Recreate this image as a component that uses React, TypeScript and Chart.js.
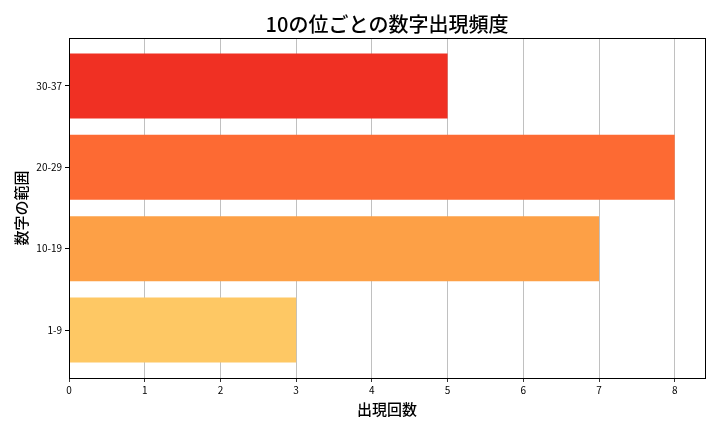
import React, { useEffect, useRef } from "react";
import { Chart, registerables } from "chart.js";

Chart.register(...registerables);

const categories = ["1-9", "10-19", "20-29", "30-37"];
const counts = [3, 7, 8, 5];
const barColors = ["#fec864", "#fda046", "#fd6a33", "#f03023"];
const xTicks = [0, 1, 2, 3, 4, 5, 6, 7, 8];

const FONT = "'Noto Sans CJK JP', 'Noto Sans', sans-serif";

const boxPlugin = {
  id: "boxBorder",
  afterDraw(chart: any) {
    const { ctx, chartArea } = chart;
    ctx.save();
    ctx.strokeStyle = "#000";
    ctx.lineWidth = 1;
    ctx.strokeRect(
      Math.round(chartArea.left) + 0.5,
      Math.round(chartArea.top) + 0.5,
      Math.round(chartArea.right - chartArea.left),
      Math.round(chartArea.bottom - chartArea.top)
    );
    ctx.restore();
  },
};

export default function App() {
  const ref = useRef<HTMLCanvasElement | null>(null);
  useEffect(() => {
    if (!ref.current) return;
    const chart = new Chart(ref.current, {
      type: "bar",
      data: {
        datasets: [
          {
            data: counts.map((v, i) => ({ x: v, y: i })),
            backgroundColor: barColors,
            borderWidth: 0,
            barPercentage: 0.8,
            categoryPercentage: 1.0,
          },
        ],
      },
      options: {
        indexAxis: "y",
        animation: false,
        responsive: false,
        layout: { padding: { right: 15, left: 0, bottom: 0 } },
        plugins: {
          legend: { display: false },
          tooltip: { enabled: false },
          title: {
            display: true,
            fullSize: false,
            text: "10の位ごとの数字出現頻度",
            color: "#000",
            font: { family: FONT, size: 20, weight: 500 },
            padding: { top: 12, bottom: 2 },
          },
        },
        scales: {
          x: {
            type: "linear",
            min: 0,
            max: 8.4,
            offset: false,
            afterBuildTicks: (scale: any) => {
              scale.ticks = xTicks.map((v) => ({ value: v }));
            },
            afterFit: (scale: any) => {
              scale.height = 54;
            },
            grid: {
              color: "#b0b0b0",
              lineWidth: 0.8,
              tickColor: "#000",
              tickLength: 4,
              drawOnChartArea: true,
              offset: false,
            },
            border: { display: true, color: "#000", width: 1 },
            ticks: {
              color: "#000",
              font: { family: FONT, size: 10 },
              padding: 2,
              maxRotation: 0,
            },
            title: {
              display: true,
              text: "出現回数",
              color: "#000",
              font: { family: FONT, size: 15, weight: 500 },
              padding: { top: 2, bottom: 14 },
            },
          },
          y: {
            type: "linear",
            min: -0.59,
            max: 3.59,
            offset: false,
            afterBuildTicks: (scale: any) => {
              scale.ticks = categories.map((_, i) => ({ value: i }));
            },
            afterFit: (scale: any) => {
              scale.width = 69;
            },
            grid: {
              drawOnChartArea: false,
              tickColor: "#000",
              tickLength: 4,
              offset: false,
            },
            border: { display: true, color: "#000", width: 1 },
            ticks: {
              color: "#000",
              font: { family: FONT, size: 10 },
              padding: 3,
              callback: (v: any) => categories[Number(v)] ?? "",
            },
            title: {
              display: true,
              text: "数字の範囲",
              color: "#000",
              font: { family: FONT, size: 15, weight: 500 },
              padding: { top: 12, bottom: 0 },
            },
          },
        },
      },
      plugins: [boxPlugin],
    } as any);
    return () => chart.destroy();
  }, []);
  return (
    <div style={{ position: "fixed", left: 0, top: 0, width: 720, height: 432, background: "#fff" }}>
      <canvas ref={ref} width={720} height={432} />
    </div>
  );
}
